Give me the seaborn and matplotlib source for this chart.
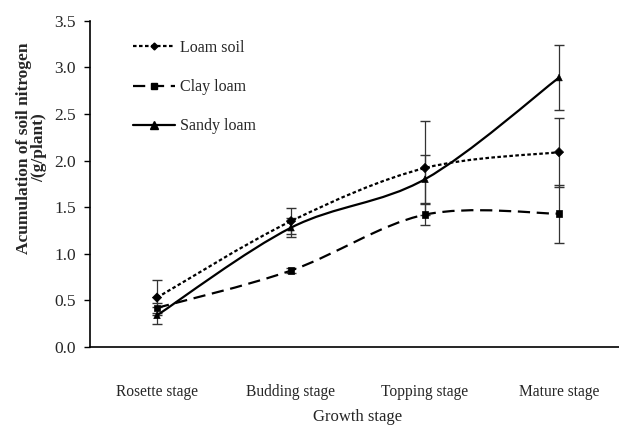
import numpy as np
import pandas as pd
import matplotlib
matplotlib.use("Agg")
import matplotlib.pyplot as plt
import seaborn as sns
from matplotlib.path import Path
from matplotlib.patches import PathPatch
from matplotlib.lines import Line2D

# ---- data ----
stages = ["Rosette stage", "Budding stage", "Topping stage", "Mature stage"]
series_names = ["Loam soil", "Clay loam", "Sandy loam"]
loam_soil = [0.53, 1.35, 1.92, 2.09]
loam_soil_err = [0.19, 0.14, 0.50, 0.37]
clay_loam = [0.42, 0.82, 1.42, 1.43]
clay_loam_err = [0.05, 0.03, 0.11, 0.31]
sandy_loam = [0.34, 1.28, 1.80, 2.89]
sandy_loam_err = [0.09, 0.10, 0.26, 0.35]

values = [loam_soil, clay_loam, sandy_loam]
errors = [loam_soil_err, clay_loam_err, sandy_loam_err]

rows = []
for name, vals, errs in zip(series_names, values, errors):
    for i, (st, v, e) in enumerate(zip(stages, vals, errs)):
        rows.append({"series": name, "stage": st, "pos": i, "value": v, "err": e})
df = pd.DataFrame(rows)

sns.set_theme(style="white")
plt.rcParams["font.family"] = ["Liberation Serif", "DejaVu Serif"]

W, H = 619, 428
fig = plt.figure(figsize=(W / 100, H / 100), dpi=100)
ax_left, ax_right, ax_bottom, ax_top = 90, 626, 347, 20.7
ax = fig.add_axes([ax_left / W, (H - ax_bottom) / H,
                   (ax_right - ax_left) / W, (ax_bottom - ax_top) / H])

styles = {
    "Loam soil": dict(ls=(0, (1.6, 1.1)), marker="D", ms=3.5),
    "Clay loam": dict(ls=(0, (5.5, 3.0)), marker="s", ms=5),
    "Sandy loam": dict(ls="-", marker="^", ms=5.5),
}


def smooth_path(xs, ys):
    pts = np.column_stack([xs, ys]).astype(float)
    n = len(pts)
    verts = [pts[0]]
    codes = [Path.MOVETO]
    for i in range(n - 1):
        p0 = pts[i - 1] if i > 0 else pts[i]
        p1 = pts[i]
        p2 = pts[i + 1]
        p3 = pts[i + 2] if i + 2 < n else pts[i + 1]
        c1 = p1 + (p2 - p0) / 6.0
        c2 = p2 - (p3 - p1) / 6.0
        verts += [c1, c2, p2]
        codes += [Path.CURVE4] * 3
    return Path(verts, codes)


# error bars
for name in series_names:
    d = df[df.series == name]
    ax.errorbar(d["pos"], d["value"], yerr=d["err"], fmt="none",
                ecolor="#333333", elinewidth=0.9, capsize=3.5, capthick=1.0,
                zorder=2, clip_on=False)

# smoothed lines
for name in series_names:
    d = df[df.series == name]
    patch = PathPatch(smooth_path(d["pos"].values, d["value"].values),
                      facecolor="none", edgecolor="black", lw=1.6,
                      linestyle=styles[name]["ls"], zorder=3, capstyle="butt")
    ax.add_patch(patch)

# markers via seaborn
sns.scatterplot(data=df, x="pos", y="value", hue="series", style="series",
                markers={k: styles[k]["marker"] for k in series_names},
                palette={k: "black" for k in series_names},
                s=22, edgecolor="black", linewidth=0.5, ax=ax, legend=False,
                zorder=4, clip_on=False)

ax.set_xlim(-0.5, 3.5)
ax.set_ylim(0, 3.5)
ax.set_yticks(np.arange(0, 3.51, 0.5))
ax.set_yticklabels([f"{v:.1f}" for v in np.arange(0, 3.51, 0.5)], fontsize=12.5)
ax.set_xticks(range(len(stages)))
ax.set_xticklabels(stages, fontsize=11.2)
ax.set_xticks([0.5, 1.5, 2.5], minor=True)
ax.tick_params(axis="x", which="major", length=0, pad=27)
ax.tick_params(axis="x", which="minor", direction="in", length=7, width=1, color="black")
ax.tick_params(axis="y", which="major", direction="out", length=4, width=1,
               color="black", left=True, pad=6)

for s in ["top", "right"]:
    ax.spines[s].set_visible(False)
for s in ["left", "bottom"]:
    ax.spines[s].set_color("black")
    ax.spines[s].set_linewidth(1.2)

ax.set_xlabel("Growth stage", fontsize=12, labelpad=6)
ax.set_ylabel("Acumulation of soil nitrogen\n/(g/plant)", fontsize=12.5,
              fontweight="bold", linespacing=1.0)
ax.yaxis.set_label_coords(-0.079, 0.61)

handles = [Line2D([], [], color="black", lw=1.6, ls=styles[k]["ls"],
                  marker=styles[k]["marker"], ms=styles[k]["ms"],
                  markerfacecolor="black") for k in series_names]
ax.legend(handles, series_names, loc="upper left", bbox_to_anchor=(0.06, 0.975),
          frameon=False, fontsize=11.5, handlelength=2.6, handletextpad=0.3,
          labelspacing=1.45, borderaxespad=0.3)

fig.savefig("out.png", dpi=100)
